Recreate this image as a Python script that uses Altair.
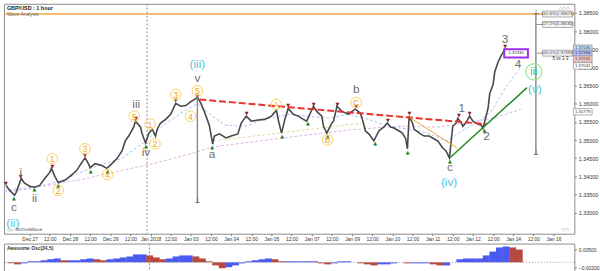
import altair as alt
import pandas as pd

# ---------------- data ----------------
x_labels = ["Dec 27", "12:00", "Dec 28", "12:00", "Dec 29", "12:00", "Jan 2018", "12:00",
            "Jan 03", "12:00", "Jan 04", "12:00", "Jan 05", "12:00", "Jan 07", "12:00",
            "Jan 09", "12:00", "Jan 10", "12:00", "Jan 11", "12:00", "Jan 12", "12:00",
            "Jan 14", "12:00", "Jan 16"]
y_ticks = [1.330, 1.335, 1.340, 1.345, 1.350, 1.355, 1.360, 1.365, 1.370, 1.375, 1.380, 1.385]

# hours since Dec 27 00:00 (chart bar-time) and close price
price_hours = [-14, -12, -9, -8, -5, -3, 0, 3, 6, 9, 12, 13, 15, 17, 21, 24, 28, 31, 33, 35,
               36, 39, 43, 46, 49, 52, 55, 57, 59, 62, 63, 66, 67, 69, 71, 73, 75, 76, 78, 81,
               84, 87, 90, 93, 96, 100, 102, 104, 107, 109, 110, 113, 117, 120, 124, 126, 129, 132, 136, 140,
               144, 147, 148, 150, 152, 154, 157, 160, 163, 165, 169, 171, 174, 175, 177, 180, 181, 183, 186, 190,
               192, 194, 197, 198, 200, 202, 205, 208, 211, 213, 215, 217, 220, 222, 224, 225, 226, 228, 229, 232,
               235, 238, 241, 243, 246, 248, 250, 252, 254, 255, 257, 258, 260, 262, 264, 267, 269, 270, 273, 274,
               276, 277, 279, 281, 283, 284]
price_values = [1.3375, 1.3362, 1.3348, 1.3356, 1.3394, 1.3381, 1.3373, 1.3370, 1.3375, 1.3394,
                1.3411, 1.3422, 1.3400, 1.3383, 1.3389, 1.3400, 1.3416, 1.3438, 1.3451, 1.3435,
                1.3424, 1.3435, 1.3430, 1.3422, 1.3435, 1.3449, 1.3470, 1.3498, 1.3511, 1.3536,
                1.3552, 1.3536, 1.3517, 1.3492, 1.3519, 1.3530, 1.3511, 1.3530, 1.3547, 1.3557,
                1.3571, 1.3601, 1.3593, 1.3595, 1.3606, 1.3617, 1.3601, 1.3579, 1.3541, 1.3489,
                1.3511, 1.3517, 1.3506, 1.3511, 1.3517, 1.3547, 1.3566, 1.3552, 1.3555, 1.3557,
                1.3566, 1.3582, 1.3557, 1.3519, 1.3557, 1.3587, 1.3571, 1.3566, 1.3557, 1.3552,
                1.3593, 1.3579, 1.3566, 1.3538, 1.3519, 1.3547, 1.3552, 1.3593, 1.3579, 1.3571,
                1.3579, 1.3585, 1.3574, 1.3560, 1.3525, 1.3517, 1.3498, 1.3525, 1.3536, 1.3547,
                1.3536, 1.3533, 1.3525, 1.3519, 1.3503, 1.3476, 1.3566, 1.3547, 1.3530, 1.3519,
                1.3511, 1.3511, 1.3503, 1.3498, 1.3478, 1.3470, 1.3451, 1.3538, 1.3547, 1.3560,
                1.3547, 1.3538, 1.3549, 1.3566, 1.3552, 1.3544, 1.3541, 1.3533, 1.3587, 1.3628,
                1.3653, 1.3688, 1.3715, 1.3734, 1.3750, 1.3742]

# moving averages (dashed)
ma_fast_hours = [-15.3, 1.8, 19.4, 37.0, 54.6, 69.3, 78.2, 89.9, 99.9, 107.5, 116.4, 128.1, 139.9,
                 154.5, 166.3, 178.1, 189.8, 201.6, 213.3, 225.1, 236.8, 248.6, 257.4, 266.2, 275.0, 283.8, 291.5]
ma_fast_values = [1.33562, 1.33671, 1.33889, 1.34242, 1.34487, 1.34976, 1.35356, 1.35736, 1.36008, 1.35709,
                  1.35410, 1.35383, 1.35573, 1.35709, 1.35655, 1.35601, 1.35709, 1.35573, 1.35383, 1.35302,
                  1.35193, 1.34976, 1.35247, 1.35465, 1.35791, 1.36470, 1.36960]
ma_slow_hours = [-15.3, 7.6, 31.1, 54.6, 78.2, 95.8, 109.3, 136.9, 160.4, 189.8, 219.2, 242.7, 260.3, 278.0, 292.6]
ma_slow_values = [1.33617, 1.33726, 1.33916, 1.34160, 1.34405, 1.34622, 1.34812, 1.34976, 1.35112, 1.35275,
                  1.35383, 1.35356, 1.35465, 1.35628, 1.35845]
channel_hours = [109.3, 197.5]
channel_values = [1.34976, 1.35465]

# fractal markers
top_hours = [-14.1, -5.3, 13.5, 32.9, 63.5, 87.0, 99.9, 129.3, 154.0, 169.2, 183.3, 194.5, 213.3, 226.2, 255.6, 262.1, 283.2]
top_values = [1.33807, 1.33997, 1.34296, 1.34595, 1.35601, 1.36090, 1.36225, 1.35736, 1.35954, 1.35981,
              1.35981, 1.35927, 1.35546, 1.35736, 1.35682, 1.35736, 1.37584]
low_hours = [-9.4, 2.9, 17.0, 36.4, 46.4, 69.3, 108.7, 150.4, 165.7, 177.5, 205.7, 225.1, 250.3, 270.9]
low_values = [1.33400, 1.33644, 1.33753, 1.34160, 1.34160, 1.34840, 1.34812, 1.35112, 1.35465, 1.35112,
              1.34921, 1.34677, 1.34432, 1.35275]

# wave labels
circ_labels = ["1", "2", "3", "4", "5", "1", "2", "3", "4", "5", "A", "B", "C"]
circ_hours = [13.5, 17.0, 32.9, 46.4, 62.3, 71.7, 74.6, 87.0, 95.8, 99.9, 146.9, 177.5, 194.5]
circ_values = [1.34486, 1.33617, 1.34758, 1.34052, 1.35655, 1.35438, 1.34894, 1.36253, 1.35655, 1.36361,
               1.35981, 1.35003, 1.36035]
gray_labels = ["c", "i", "ii", "iii", "iv", "v", "a", "b", "c", "1", "2", "3", "4"]
gray_hours = [-9.4, -5.3, 2.9, 63.5, 69.3, 99.9, 108.7, 194.5, 250.3, 257.4, 272.1, 283.2, 290.9]
gray_values = [1.33155, 1.34106, 1.33400, 1.35981, 1.34677, 1.36715, 1.34622, 1.36416, 1.34269, 1.35872,
               1.35112, 1.37775, 1.37095]
cyan_labels = ["(ii)", "(iii)", "(iv)", "(v)"]
cyan_hours = [-10.0, 99.9, 249.8, 300.9]
cyan_values = [1.32720, 1.37095, 1.33834, 1.36416]
green_label = ["iii"]
green_hours = [300.3]
green_values = [1.36878]

# trend lines
red_hours = [101.1, 272.1]
red_values = [1.36117, 1.35438]
orange_hours = [226.2, 254.4]
orange_values = [1.35628, 1.34785]
green_line_hours = [250.3, 296.2]
green_line_values = [1.34514, 1.36443]

# measuring tools / fib levels
fib_level = 1.38471
measure_h = [301.5, 99.9]
measure_top = [1.38471, 1.36171]
measure_bottom = [1.34595, 1.33264]
fib_texts = ["161.8%(1.38471)", "127.2%(1.38182)", "100.0%(1.37393)"]
fib_values = [1.38471, 1.38182, 1.37393]
fib_box_hour = 314.4
vs_text = "5 vs 1-3"
vs_value = 1.37245
mark_texts = ["1.37530", "1.37394", "1.37231", "1.37041", "1.35779"]
mark_values = [1.37530, 1.37394, 1.37231, 1.37041, 1.35779]
mark_colors = ["#c9e4f5", "#b6bcf5", "#f6c5c5", "#ffffff", "#ffffff"]
last_box_hour = [289.7]
last_box_value = [1.37385]
last_box_text = ["1.37430"]
jan2018_hour = 69.9

# Awesome oscillator
osc_hours = list(range(-14, 295, 4))
osc_values = [-0.0004, -0.0008, -0.0004, 0.0004, 0.0004, 0.0008, 0.0012, 0.0015, 0.0008, 0.0008,
              0.0008, 0.0012, 0.0015, 0.0012, 0.0008, 0.0012, 0.0015, 0.0019, 0.0023, 0.0031,
              0.0031, 0.0027, 0.0019, 0.0012, 0.0015, 0.0023, 0.0027, 0.0027, 0.0023, 0.0015,
              0.0004, -0.0012, -0.0023, -0.0019, -0.0012, -0.0004, 0.0004, 0.0008, 0.0012, 0.0015,
              0.0012, 0.0004, 0.0004, 0.0004, 0.0004, 0.0004, 0.0004, -0.0004, -0.0008, -0.0004,
              0.0004, 0.0004, 0.0000, -0.0004, -0.0008, -0.0012, -0.0008, -0.0008, -0.0004, 0.0000,
              -0.0004, -0.0004, -0.0004, -0.0004, -0.0008, -0.0012, -0.0012, 0.0000, 0.0012, 0.0015,
              0.0015, 0.0015, 0.0027, 0.0042, 0.0058, 0.0062, 0.0058, 0.0050]
osc_up_color = "#4a5af0"
osc_down_color = "#b5483f"

# ---------------- tables ----------------
price_df = pd.DataFrame({"h": price_hours, "p": price_values})
fast_df = pd.DataFrame({"h": ma_fast_hours, "p": ma_fast_values})
slow_df = pd.DataFrame({"h": ma_slow_hours, "p": ma_slow_values})
chan_df = pd.DataFrame({"h": channel_hours, "p": channel_values})
tops_df = pd.DataFrame({"h": top_hours, "p": top_values})
lows_df = pd.DataFrame({"h": low_hours, "p": low_values})
circ_df = pd.DataFrame({"h": circ_hours, "p": circ_values, "t": circ_labels})
gray_df = pd.DataFrame({"h": gray_hours, "p": gray_values, "t": gray_labels})
cyan_df = pd.DataFrame({"h": cyan_hours, "p": cyan_values, "t": cyan_labels})
green_df = pd.DataFrame({"h": green_hours, "p": green_values, "t": green_label})
red_df = pd.DataFrame({"h": red_hours, "p": red_values})
orange_df = pd.DataFrame({"h": orange_hours, "p": orange_values})
gline_df = pd.DataFrame({"h": green_line_hours, "p": green_line_values})
measure_df = pd.DataFrame({"h": measure_h, "p1": measure_top, "p2": measure_bottom})
cap_df = pd.DataFrame({"h": [measure_h[0], measure_h[0], measure_h[1]],
                       "p": [measure_top[0], measure_bottom[0], measure_bottom[1]]})
fib_df = pd.DataFrame({"h": fib_box_hour, "p": fib_values, "t": fib_texts})
lead_df = pd.DataFrame({"h1": measure_h[0], "h2": fib_box_hour, "p": fib_values[1:]})
vs_df = pd.DataFrame({"h": [fib_box_hour], "p": [vs_value], "t": [vs_text]})
mark_df = pd.DataFrame({"p": mark_values, "t": mark_texts, "c": mark_colors})
last_df = pd.DataFrame({"h": last_box_hour, "p": last_box_value, "t": last_box_text})
vline_df = pd.DataFrame({"h": [jan2018_hour]})
fibline_df = pd.DataFrame({"p": [fib_level]})
osc_df = pd.DataFrame({"h": osc_hours, "v": osc_values})
osc_df["c"] = [osc_down_color] + [osc_up_color if b >= a else osc_down_color
                                  for a, b in zip(osc_values[:-1], osc_values[1:])]

# ---------------- scales / axes ----------------
FONT = "Liberation Sans"
label_expr = "[" + ",".join("'%s'" % l for l in x_labels) + "][round(datum.value/12)]"
xs = alt.Scale(domain=[-15.3, 324.4], nice=False, zero=False)
ys = alt.Scale(domain=[1.32421, 1.38753], nice=False, zero=False)
x_axis = alt.Axis(values=[12 * i for i in range(len(x_labels))], labelExpr=label_expr, title=None,
                  grid=False, domain=False, tickSize=2, labelFontSize=5, labelPadding=1,
                  labelFlush=False, labelOverlap=False, tickColor="#777", labelColor="#333", labelFont=FONT)
y_axis = alt.Axis(orient="right", values=y_ticks, format=".5f", title=None, grid=False, domain=False,
                  tickSize=2, labelFontSize=5.5, labelPadding=2, labelColor="#333", labelFont=FONT,
                  tickColor="#777")


def X(f="h"):
    return alt.X(f"{f}:Q", scale=xs, axis=x_axis)


def Y(f="p"):
    return alt.Y(f"{f}:Q", scale=ys, axis=y_axis)


RECT = "M-1,-0.2H1V0.2H-1Z"
RECT2 = "M-1,-0.34H1V0.34H-1Z"
RECT3 = "M-1,-0.35H1V0.35H-1Z"
one = price_df.head(1)

layers = [
    alt.Chart(vline_df).mark_rule(color="#888", strokeDash=[2, 2], strokeWidth=1).encode(x=X()),
    alt.Chart(fibline_df).mark_rule(color="#f3a446", strokeWidth=1.5).encode(y=Y()),
    alt.Chart(slow_df).mark_line(color="#e2b1e6", strokeDash=[3, 2], strokeWidth=1).encode(x=X(), y=Y()),
    alt.Chart(chan_df).mark_line(color="#e6d9a6", strokeDash=[3, 2], strokeWidth=1).encode(x=X(), y=Y()),
    alt.Chart(fast_df).mark_line(color="#a9c4f2", strokeDash=[3, 2], strokeWidth=1).encode(x=X(), y=Y()),
    alt.Chart(price_df).mark_line(color="#474747", strokeWidth=1.6).encode(x=X(), y=Y()),
    alt.Chart(tops_df).mark_text(text="▼", font="DejaVu Sans", fontSize=5, color="#8b1c1c").encode(x=X(), y=Y()),
    alt.Chart(lows_df).mark_text(text="▲", font="DejaVu Sans", fontSize=5, color="#1e7a1e").encode(x=X(), y=Y()),
    alt.Chart(red_df).mark_line(color="#e8322b", strokeDash=[7, 3], strokeWidth=2).encode(x=X(), y=Y()),
    alt.Chart(orange_df).mark_line(color="#f5a030", strokeWidth=1).encode(x=X(), y=Y()),
    alt.Chart(gline_df).mark_line(color="#1f8a1f", strokeWidth=1.5).encode(x=X(), y=Y()),
    alt.Chart(measure_df).mark_rule(color="#8c8c8c", strokeWidth=1.5).encode(x=X(), y=Y("p1"), y2="p2:Q"),
    alt.Chart(cap_df).mark_text(text="⊥", font="DejaVu Sans", fontSize=7, color="#444", dy=-2).encode(x=X(), y=Y()),
    alt.Chart(lead_df).mark_rule(color="#999", strokeWidth=1).encode(x=X("h1"), x2="h2:Q", y=Y()),
    alt.Chart(fib_df).mark_point(shape=RECT, size=900, filled=True, fill="#f4f4f4", stroke="#999",
                                 strokeWidth=0.8, opacity=1).encode(x=X(), y=Y()),
    alt.Chart(fib_df).mark_text(fontSize=4.3, font=FONT, color="#444").encode(x=X(), y=Y(), text="t:N"),
    alt.Chart(vs_df).mark_text(fontSize=4.5, font=FONT, color="#222", dx=3).encode(x=X(), y=Y(), text="t:N"),
    alt.Chart(circ_df).mark_point(shape="circle", size=115, filled=False, color="#f8cf5c",
                                  strokeWidth=1, opacity=1).encode(x=X(), y=Y()),
    alt.Chart(circ_df).mark_text(fontSize=9, font=FONT, color="#f2a60f", dy=0.5).encode(x=X(), y=Y(), text="t:N"),
    alt.Chart(gray_df).mark_text(fontSize=12, font=FONT, color="#6e6e6e").encode(x=X(), y=Y(), text="t:N"),
    alt.Chart(cyan_df).mark_text(fontSize=12, font=FONT, color="#4cc6da").encode(x=X(), y=Y(), text="t:N"),
    alt.Chart(green_df).mark_point(shape="circle", size=270, filled=False, color="#9be69b",
                                   strokeWidth=1.3, opacity=1).encode(x=X(), y=Y()),
    alt.Chart(green_df).mark_text(fontSize=11, font=FONT, color="#3fcc3f").encode(x=X(), y=Y(), text="t:N"),
    alt.Chart(last_df).mark_point(shape=RECT3, size=576, filled=True, fill="#ffffff", stroke="#9a2ff0",
                                  strokeWidth=2, opacity=1).encode(x=X(), y=Y()),
    alt.Chart(last_df).mark_text(fontSize=4.3, font=FONT, color="#333").encode(x=X(), y=Y(), text="t:N"),
    alt.Chart(mark_df).mark_point(shape=RECT2, size=361, filled=True, stroke="#8a8a8a",
                                  strokeWidth=0.7, opacity=1).encode(
        x=alt.value(586.5), y=Y(), fill=alt.Color("c:N", scale=None)),
    alt.Chart(mark_df).mark_text(fontSize=4.3, font=FONT, color="#333").encode(
        x=alt.value(586.5), y=Y(), text="t:N"),
    alt.Chart(one).mark_text(text="GBP/USD : 1 hour", fontSize=5.5, fontWeight="bold", font=FONT,
                             color="#222", align="left").encode(x=alt.value(3), y=alt.value(4)),
    alt.Chart(one).mark_text(text="Wave Analysis", fontSize=5, font=FONT,
                             color="#777", align="left").encode(x=alt.value(3), y=alt.value(10)),
    alt.Chart(one).mark_text(text="◇◇ MotiveWave", fontSize=4.5, font="DejaVu Sans",
                             color="#555", align="left").encode(x=alt.value(3), y=alt.value(229)),
    alt.Chart(one).mark_text(text="◇◇◇", fontSize=5, font="DejaVu Sans",
                             color="#aaa", align="left").encode(x=alt.value(562), y=alt.value(4)),
    alt.Chart(one).mark_text(text="◇◇", fontSize=5, font="DejaVu Sans",
                             color="#aaa", align="left").encode(x=alt.value(565), y=alt.value(228)),
]

main = alt.layer(*layers).properties(width=578, height=233)

os_scale = alt.Scale(domain=[-0.003465, 0.007315], nice=False)
osc_axis = alt.Axis(orient="right", values=[0.005, -0.002], format=".5f", title=None, grid=False,
                    domain=False, tickSize=2, labelFontSize=5, labelPadding=2, labelColor="#333",
                    labelFont=FONT, tickColor="#777")
osc_layers = [
    alt.Chart(osc_df).mark_bar(size=7, opacity=1).encode(
        x=alt.X("h:Q", scale=xs, axis=None),
        y=alt.Y("v:Q", scale=os_scale, axis=osc_axis, stack=None),
        color=alt.Color("c:N", scale=None)),
    alt.Chart(pd.DataFrame({"v": [0.0]})).mark_rule(color="#999", strokeDash=[1, 2]).encode(
        y=alt.Y("v:Q", scale=os_scale, axis=osc_axis)),
    alt.Chart(vline_df).mark_rule(color="#888", strokeDash=[2, 2], strokeWidth=1).encode(
        x=alt.X("h:Q", scale=xs, axis=None)),
    alt.Chart(osc_df.head(1)).mark_text(text="Awesome Osc(34,5)", fontSize=5, font=FONT, fontWeight="bold",
                                        color="#333", align="left").encode(x=alt.value(3), y=alt.value(5)),
]
osc = alt.layer(*osc_layers).properties(width=578, height=28)

chart = alt.vconcat(main, osc, spacing=0).properties(
    padding={"left": 1, "top": 1, "right": 0, "bottom": 0}, background="white"
).configure_view(stroke="#8a8a8a", strokeWidth=1)

chart.save("out.html", embed_options={"renderer": "svg", "actions": False})
